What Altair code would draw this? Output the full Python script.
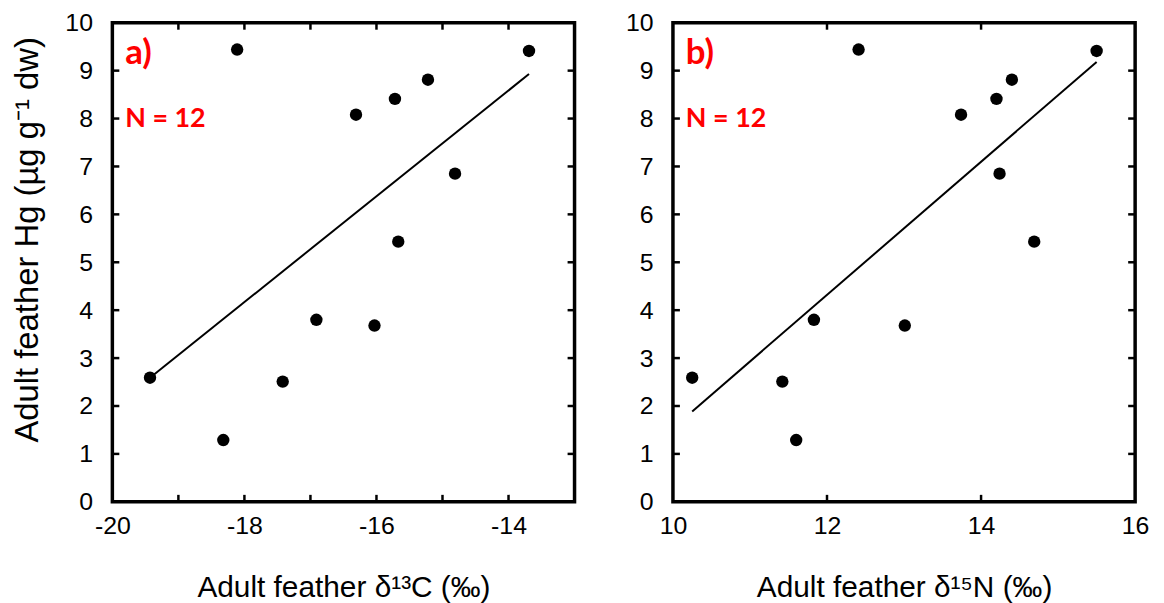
import altair as alt
import pandas as pd

# Shared Hg values (same 12 birds in both panels)
hg = [9.44, 9.41, 8.08, 8.41, 8.81, 6.85, 5.43, 2.59, 1.29, 2.51, 3.80, 3.68]
d13c = [-18.11, -13.69, -16.31, -15.72, -15.22, -14.81, -15.67, -19.43, -18.32, -17.42, -16.91, -16.03]
d15n = [12.41, 15.50, 13.74, 14.20, 14.40, 14.24, 14.69, 10.25, 11.60, 11.42, 11.83, 13.01]

c_domain = [-20, -13]
n_domain = [10, 16]
y_domain = [0, 10]
c_label_values = [-20, -18, -16, -14]
n_label_values = [10, 12, 14, 16]
c_tick_values = [-19, -18, -17, -16, -15, -14]
n_tick_values = [12, 14]
y_tick_values = [1, 2, 3, 4, 5, 6, 7, 8, 9]
y_label_values = [0, 1, 2, 3, 4, 5, 6, 7, 8, 9, 10]

panel_labels = ["a)", "b)"]
n_label = "N = 12"
x_titles = ["Adult feather δ¹³C (‰)", "Adult feather δ¹⁵N (‰)"]
y_title = "Adult feather Hg (µg g⁻¹ dw)"

W, H = 465, 482
TICK = 7
FONT = "Liberation Sans"


def panel(xvals, domain, label_values, tick_values, xtitle, plabel, show_ytitle):
    df = pd.DataFrame({"x": xvals, "y": hg})
    xs = alt.Scale(domain=domain, nice=False, zero=False)
    ys = alt.Scale(domain=y_domain, nice=False, zero=False)
    if show_ytitle:
        yaxis = alt.Axis(values=y_label_values, title=y_title, titleY=218)
    else:
        yaxis = alt.Axis(values=y_label_values, title="")
    xaxis = alt.Axis(values=label_values, labelExpr="'' + datum.value", title=xtitle)
    pts = alt.Chart(df).mark_circle(size=155, color="black", opacity=1).encode(
        x=alt.X("x:Q", scale=xs, axis=xaxis),
        y=alt.Y("y:Q", scale=ys, axis=yaxis),
    )
    line = alt.Chart(df).transform_regression("x", "y").mark_line(
        color="black", strokeWidth=2).encode(
        x=alt.X("x:Q", scale=xs),
        y=alt.Y("y:Q", scale=ys),
    )
    xt = pd.DataFrame({"v": tick_values})
    yt = pd.DataFrame({"v": y_tick_values})
    bottom = alt.Chart(xt).mark_rule(color="black", strokeWidth=2.5).encode(
        x=alt.X("v:Q", scale=xs), y=alt.value(H), y2=alt.value(H - TICK))
    top = alt.Chart(xt).mark_rule(color="black", strokeWidth=2.5).encode(
        x=alt.X("v:Q", scale=xs), y=alt.value(0), y2=alt.value(TICK))
    left = alt.Chart(yt).mark_rule(color="black", strokeWidth=2.5).encode(
        y=alt.Y("v:Q", scale=ys), x=alt.value(0), x2=alt.value(TICK))
    right = alt.Chart(yt).mark_rule(color="black", strokeWidth=2.5).encode(
        y=alt.Y("v:Q", scale=ys), x=alt.value(W), x2=alt.value(W - TICK))
    lab = alt.Chart(pd.DataFrame({"t": [plabel]})).mark_text(
        align="left", baseline="middle", font="Lato", fontWeight="bold",
        fontSize=35, color="#ff0000").encode(
        x=alt.value(13), y=alt.value(31), text="t:N")
    nlab = alt.Chart(pd.DataFrame({"t": [n_label]})).mark_text(
        align="left", baseline="middle", font="Lato", fontWeight="bold",
        fontSize=27, color="#ff0000").encode(
        x=alt.value(13), y=alt.value(97), text="t:N")
    return alt.layer(pts, line, bottom, top, left, right, lab, nlab).properties(
        width=W, height=H)


pa = panel(d13c, c_domain, c_label_values, c_tick_values, x_titles[0], panel_labels[0], True)
pb = panel(d15n, n_domain, n_label_values, n_tick_values, x_titles[1], panel_labels[1], False)

chart = alt.hconcat(pa, pb, spacing=46).properties(
    padding={"left": 1, "top": -1, "right": 5, "bottom": 0},
    background="white",
).configure_view(
    stroke="black", strokeWidth=3.5
).configure_axis(
    ticks=False, domain=False, grid=False, labelFlush=False,
    labelFont=FONT, labelFontSize=25, labelColor="black",
    titleFont=FONT, titleFontSize=30, titleFontWeight="normal", titleColor="black",
).configure_axisX(
    labelPadding=12, titlePadding=34
).configure_axisY(
    labelPadding=20, titlePadding=21, titleFontSize=33
)

chart.save("out.html", embed_options={"renderer": "svg", "actions": False})
